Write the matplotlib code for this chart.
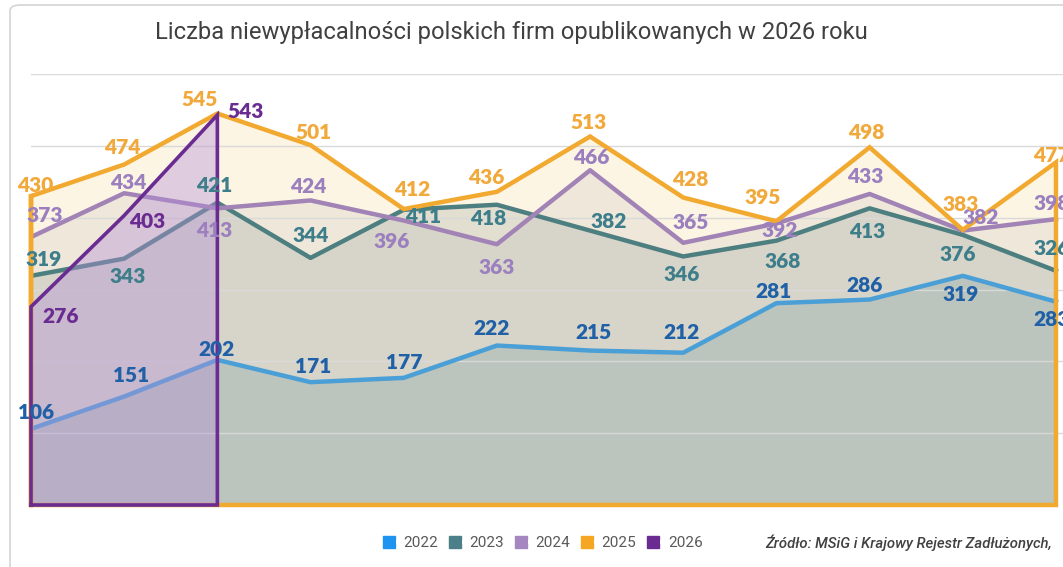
import matplotlib
matplotlib.use("Agg")
import matplotlib.pyplot as plt
from matplotlib.lines import Line2D
from matplotlib.patches import FancyBboxPatch
from matplotlib.legend_handler import HandlerTuple

# dane: liczba niewyplacalnosci wg miesiaca (styczen..grudzien)
months = list(range(12))
y2022 = [106, 151, 202, 171, 177, 222, 215, 212, 281, 286, 319, 283]
y2023 = [319, 343, 421, 344, 411, 418, 382, 346, 368, 413, 376, 326]
y2024 = [373, 434, 413, 424, 396, 363, 466, 365, 392, 433, 382, 398]
y2025 = [430, 474, 545, 501, 412, 436, 513, 428, 395, 498, 383, 477]
y2026 = [276, 403, 543]
years = ["2022", "2023", "2024", "2025", "2026"]

# przesuniecia etykiet (piksele)
off2022 = [(5, 16), (7, 21), (-1, 10), (3, 16), (1, 15), (-5, 17), (3, 18), (-2, 20), (-3, 12), (-5, 14), (-2, -19), (-4, -18)]
off2023 = [(13, 16), (3, -18), (-3, 17), (0, 22), (19, -7), (-9, -14), (19, 9), (-2, -18), (6, -21), (-2, -23), (-5, -20), (-4, 22)]
off2024 = [(14, 22), (4, 11), (-3, -22), (-2, 14), (-12, -21), (0, -23), (1, 13), (7, 20), (3, -7), (-4, 17), (18, 13), (-4, 16)]
off2025 = [(4, 11), (-2, 17), (-18, 14), (3, 13), (8, 20), (-11, 14), (-2, 14), (7, 18), (-14, 24), (-3, 15), (-2, 25), (-5, 7)]
off2026 = [(30, -10), (23, -6), (28, 3)]

line_c = {"2022": "#4a9fd6", "2023": "#4e7f80", "2024": "#a183b5", "2025": "#f2a92f", "2026": "#6b2c91"}
lab_c = {"2022": "#1f60a6", "2023": "#3e7e8b", "2024": "#9b7fbe", "2025": "#f2a93b", "2026": "#6b2c91"}
leg_c = {"2022": "#1e94f0", "2023": "#4b7f8a", "2024": "#a486c0", "2025": "#f5a623", "2026": "#6b2c91"}

fig = plt.figure(figsize=(10.63, 5.67), dpi=100)
ax = fig.add_axes([31 / 1063, 62 / 567, 1032 / 1063, 431 / 567])
ax.set_xlim(0, 1032 / 93.18)
ax.set_ylim(0, 600)
for s in ax.spines.values():
    s.set_visible(False)
ax.set_xticks([])
ax.set_yticks([100, 200, 300, 400, 500, 600])
ax.tick_params(left=False, labelleft=False)
ax.grid(axis="y", color="#d9d9d9", lw=1, zorder=0)

# wypelnienia
ax.fill_between(months, 0, y2025, color="#fcf5e4", zorder=1)
ax.fill_between(months, 0, y2024, color="#8a7f8a", alpha=0.11, lw=0, zorder=1.1)
ax.fill_between(months, 0, y2023, color="#6f7f80", alpha=0.18, lw=0, zorder=1.2)
ax.fill_between(months, 0, y2022, color="#4f8090", alpha=0.2, lw=0, zorder=1.3)

# linie
ax.plot(months, y2022, color=line_c["2022"], lw=3.2, zorder=3)
ax.plot(months, y2023, color=line_c["2023"], lw=3.2, zorder=3)
ax.plot(months, y2024, color=line_c["2024"], lw=3.2, zorder=3)
ax.plot([0] + months + [11, 0, 0], [0] + y2025 + [0, 0, y2025[0]], color=line_c["2025"], lw=3.2,
        zorder=3.5, clip_on=False, solid_joinstyle="miter")

# 2026 na wierzchu
m26 = months[:len(y2026)]
ax.fill_between(m26, 0, y2026, color="#b48fd6", alpha=0.4, lw=0, zorder=4)
ax.plot([0] + m26 + [m26[-1], 0], [0] + y2026 + [0, 0], color=line_c["2026"], lw=2.6, zorder=5,
        clip_on=False, solid_joinstyle="miter")

# etykiety
for yr, vals, offs in [("2022", y2022, off2022), ("2023", y2023, off2023), ("2024", y2024, off2024),
                       ("2025", y2025, off2025), ("2026", y2026, off2026)]:
    for i, (v, o) in enumerate(zip(vals, offs)):
        ax.annotate(str(v), (months[i], v), xytext=o, textcoords="offset pixels", ha="center", va="center",
                    fontsize=15, fontweight="heavy", family="Lato", color=lab_c[yr], zorder=10,
                    annotation_clip=False)

# legenda
handles = [(Line2D([], [], marker="s", ms=9, color=leg_c[y], ls="None"),
            Line2D([], [], marker="s", ms=3.2, mew=0, color="white", ls="None")) for y in years]
fig.legend(handles, years, handler_map={tuple: HandlerTuple(ndivide=None)}, loc="center",
           bbox_to_anchor=(545 / 1063, 1 - 543 / 567), ncol=5, frameon=False, handlelength=0.8,
           handletextpad=0.25, columnspacing=1.0, prop={"family": "Roboto", "size": 11},
           labelcolor="#595959")

fig.text(511 / 1063, 1 - 33 / 567, "Liczba niewypłacalności polskich firm opublikowanych w 2026 roku",
         ha="center", va="center", fontsize=17.1, family="Roboto", color="#404040")
fig.text(765 / 1063, 1 - 543 / 567, "Źródło: MSiG i Krajowy Rejestr Zadłużonych,", ha="left", va="center",
         fontsize=10.7, family="Roboto", style="italic", fontweight="medium", color="#404040")

fig.add_artist(FancyBboxPatch((10 / 1063, -0.1), 1.2, 1 - 5 / 567 + 0.1, boxstyle="round,pad=0,rounding_size=0.01",
                              transform=fig.transFigure, fill=False, ec="#d4d4d4", lw=1.2))

fig.savefig("out.png", dpi=100)
